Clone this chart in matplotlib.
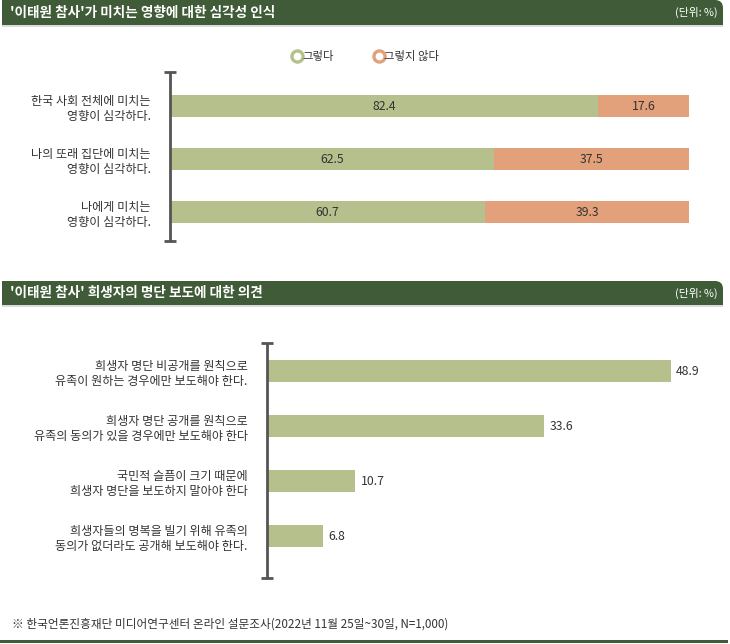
import matplotlib.pyplot as plt
from matplotlib.lines import Line2D
from matplotlib.patches import Rectangle, FancyBboxPatch

plt.rcParams['font.family'] = ['Noto Sans CJK KR', 'DejaVu Sans']

# chart 1 data
impact_labels = ['한국 사회 전체에 미치는\n영향이 심각하다.',
                 '나의 또래 집단에 미치는\n영향이 심각하다.',
                 '나에게 미치는\n영향이 심각하다.']
yes_vals = [82.4, 62.5, 60.7]
no_vals = [17.6, 37.5, 39.3]
legend_names = ['그렇다', '그렇지 않다']

# chart 2 data
opinion_labels = ['희생자 명단 비공개를 원칙으로\n유족이 원하는 경우에만 보도해야 한다.',
                  '희생자 명단 공개를 원칙으로\n유족의 동의가 있을 경우에만 보도해야 한다',
                  '국민적 슬픔이 크기 때문에\n희생자 명단을 보도하지 말아야 한다',
                  '희생자들의 명복을 빌기 위해 유족의\n동의가 없더라도 공개해 보도해야 한다.']
opinion_vals = [48.9, 33.6, 10.7, 6.8]

title1 = "'이태원 참사'가 미치는 영향에 대한 심각성 인식"
title2 = "'이태원 참사' 희생자의 명단 보도에 대한 의견"
unit_text = '(단위: %)'
footnote = '※ 한국언론진흥재단 미디어연구센터 온라인 설문조사(2022년 11월 25일~30일, N=1,000)'

GREEN = '#b5c08c'
ORANGE = '#e2a17b'
HEAD = '#3f5b37'
AXIS = '#555555'
TXT = '#333333'

W, H = 730, 644
fig = plt.figure(figsize=(W / 100, H / 100), dpi=100)


def px_axes(x0, y0, x1, y1):
    # pixel box (top-left origin) -> figure axes
    return fig.add_axes([x0 / W, 1 - y1 / H, (x1 - x0) / W, (y1 - y0) / H])


def header(y0, y1, text):
    r = 8
    fig.patches.append(FancyBboxPatch((2 / W, 1 - y1 / H), (721 / W), (y1 - y0) / H,
                                      boxstyle=f'round,pad=0,rounding_size={r / W}',
                                      transform=fig.transFigure, fc=HEAD, ec='none',
                                      mutation_aspect=W / H))
    fig.patches.append(Rectangle((2 / W, 1 - y1 / H), 700 / W, (y1 - y0) / H,
                                 transform=fig.transFigure, fc=HEAD, ec='none'))
    fig.patches.append(Rectangle((2 / W, 1 - y1 / H), 721 / W, (y1 - y0) / 2 / H,
                                 transform=fig.transFigure, fc=HEAD, ec='none'))
    fig.patches.append(Rectangle((2 / W, 1 - (y1 + 2) / H), 721 / W, 2 / H,
                                 transform=fig.transFigure, fc='#dcdcdc', ec='none'))
    yc = 1 - (y0 + y1) / 2 / H
    fig.text(10 / W, yc, text, color='white', fontsize=9.8, fontweight='bold',
             va='center', ha='left')
    fig.text(718 / W, yc, unit_text, color='white', fontsize=7.8, va='center', ha='right')


def axis_line(ax):
    for s in ax.spines.values():
        s.set_visible(False)
    ax.plot([0, 0], [0, 1], transform=ax.transAxes, color=AXIS, lw=2, clip_on=False,
            solid_capstyle='butt')
    ax.plot([0, 0], [0, 1], transform=ax.transAxes, color=AXIS, lw=0, marker='_',
            ms=9, mew=2, clip_on=False)
    ax.set_xticks([])
    ax.tick_params(axis='y', length=0, pad=14, labelsize=8.7, labelcolor=TXT)


header(0, 25, title1)
header(281, 305, title2)

# chart 1: stacked bars
ax1 = px_axes(170, 72, 689, 241)
rows1 = list(range(len(impact_labels)))
ax1.barh(rows1, yes_vals, height=0.415, color=GREEN, edgecolor='none', label=legend_names[0])
ax1.barh(rows1, no_vals, left=yes_vals, height=0.415, color=ORANGE, edgecolor='none',
         label=legend_names[1])
for i in rows1:
    ax1.text(yes_vals[i] / 2, i, f'{yes_vals[i]:.1f}', ha='center', va='center',
             fontsize=8.8, color=TXT)
    ax1.text(yes_vals[i] + no_vals[i] / 2, i, f'{no_vals[i]:.1f}', ha='center',
             va='center', fontsize=8.8, color=TXT)
ax1.set_xlim(0, 100)
ax1.set_ylim(2.547, -0.642)
ax1.set_yticks(rows1)
ax1.set_yticklabels(impact_labels, ha='right', linespacing=1.25)
axis_line(ax1)

handles = [Line2D([], [], ls='none', marker='o', ms=8, mfc='white', mec=GREEN, mew=2.4),
           Line2D([], [], ls='none', marker='o', ms=8, mfc='white', mec=ORANGE, mew=2.4)]
fig.legend(handles, legend_names, loc='center', bbox_to_anchor=(366 / W, 1 - 56 / H),
           ncol=2, frameon=False, handlelength=0.7, handletextpad=0.15, columnspacing=3.6,
           fontsize=8.2, labelcolor=TXT)

# chart 2: simple bars
ax2 = px_axes(267, 343, 721, 578)
rows2 = list(range(len(opinion_labels)))
ax2.barh(rows2, opinion_vals, height=0.4, color=GREEN, edgecolor='none')
for i in rows2:
    ax2.annotate(f'{opinion_vals[i]:.1f}', (opinion_vals[i], i), xytext=(4, 0),
                 textcoords='offset points', ha='left', va='center', fontsize=8.8, color=TXT)
ax2.set_xlim(0, 55)
ax2.set_ylim(3.755, -0.509)
ax2.set_yticks(rows2)
ax2.set_yticklabels(opinion_labels, ha='right', linespacing=1.25)
axis_line(ax2)

fig.text(12 / W, 1 - 624 / H, footnote, fontsize=8.4, color=TXT, va='center', ha='left')
fig.patches.append(Rectangle((0, 1 - 643 / H), 728 / W, 3.5 / H, transform=fig.transFigure,
                             fc=HEAD, ec='none'))

fig.savefig('out.png', dpi=100)
